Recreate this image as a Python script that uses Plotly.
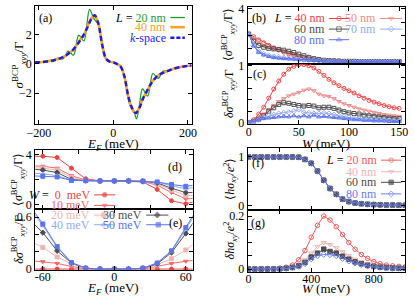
import plotly.graph_objects as go

# ---------------- data ----------------
# (a) sigma_xyy^BCP / Gamma vs E_F
ef_a = list(range(-210, 211, 10))
kspace = [0.1, 0.1, 0.12, 0.15, 0.2, 0.24, 0.3, 0.4, 0.5, 0.7, 0.9, 1.2, 1.55, 1.95, 2.45, 3.0,
          3.3, 2.7, 1.3, 0.35, 0.15, 0.1, -0.02, -0.2, -0.9, -2.2, -3.0, -3.35, -3.0, -2.35,
          -1.85, -1.4, -1.05, -0.8, -0.65, -0.55, -0.45, -0.35, -0.28, -0.22, -0.18, -0.14, -0.12]
orange_40 = [0.1, 0.1, 0.12, 0.15, 0.2, 0.25, 0.3, 0.38, 0.52, 0.72, 0.88, 1.22, 1.62, 1.9, 2.5, 3.05,
             3.25, 2.7, 1.3, 0.35, 0.15, 0.1, -0.02, -0.2, -0.9, -2.25, -3.05, -3.38, -2.95, -2.3,
             -1.92, -1.38, -1.05, -0.8, -0.66, -0.55, -0.45, -0.35, -0.28, -0.22, -0.18, -0.14, -0.12]
green_ef = [-210, -190, -170, -163, -149, -135, -121, -107, -93, -79, -64, -52, -40, -30, -20, -10,
            0, 10, 20, 30, 40, 48, 55, 62, 70, 78, 92, 106, 120, 134, 148, 165, 185, 210]
green_20 = [0.1, 0.12, 0.17, 0.15, 0.38, 0.33, 0.85, 0.58, 1.95, 1.55, 3.7, 3.05, 2.65, 1.3, 0.35, 0.15,
            0.1, -0.02, -0.2, -0.9, -2.4, -3.0, -3.2, -3.75, -2.8, -1.7, -2.2, -0.65, -1.0, -0.5,
            -0.52, -0.3, -0.2, -0.12]

# (b),(c) vs W, several L
w_bc = list(range(0, 151, 5))
avg_40 = [3.05, 2.95, 2.83, 2.72, 2.62, 2.53, 2.45, 2.37, 2.3, 2.24, 2.19, 2.15, 2.11, 2.08, 2.06, 2.05,
          2.04, 2.03, 2.03, 2.02, 2.02, 2.02, 2.02, 2.02, 2.02, 2.02, 2.02, 2.02, 2.02, 2.02, 2.02]
avg_50 = [3.05, 2.88, 2.74, 2.63, 2.55, 2.49, 2.44, 2.39, 2.34, 2.29, 2.24, 2.19, 2.15, 2.11, 2.08, 2.06,
          2.05, 2.04, 2.03, 2.02, 2.02, 2.02, 2.02, 2.02, 2.02, 2.02, 2.02, 2.02, 2.02, 2.02, 2.02]
avg_60 = [3.05, 2.78, 2.62, 2.55, 2.51, 2.49, 2.47, 2.44, 2.4, 2.35, 2.29, 2.23, 2.17, 2.12, 2.09, 2.06,
          2.05, 2.04, 2.03, 2.02, 2.02, 2.02, 2.01, 2.01, 2.01, 2.01, 2.01, 2.01, 2.01, 2.01, 2.01]
avg_70 = [3.05, 2.62, 2.4, 2.3, 2.24, 2.2, 2.18, 2.16, 2.14, 2.12, 2.1, 2.08, 2.07, 2.06, 2.05, 2.04,
          2.03, 2.02, 2.02, 2.01, 2.01, 2.01, 2.01, 2.01, 2.01, 2.01, 2.01, 2.01, 2.01, 2.01, 2.01]
avg_80 = [3.05, 2.6, 2.36, 2.26, 2.2, 2.16, 2.14, 2.12, 2.11, 2.1, 2.08, 2.07, 2.06, 2.05, 2.04, 2.03,
          2.02, 2.02, 2.01, 2.01, 2.01, 2.01, 2.01, 2.01, 2.01, 2.01, 2.01, 2.01, 2.01, 2.01, 2.01]
dev_40 = [0, 0.05, 0.15, 0.27, 0.43, 0.59, 0.73, 0.85, 0.94, 0.99, 1.02, 1.02, 1.0, 0.96, 0.9, 0.83,
          0.76, 0.7, 0.65, 0.6, 0.56, 0.52, 0.47, 0.43, 0.39, 0.36, 0.33, 0.3, 0.28, 0.26, 0.25]
dev_50 = [0, 0.03, 0.08, 0.15, 0.23, 0.3, 0.37, 0.42, 0.47, 0.5, 0.53, 0.57, 0.59, 0.56, 0.5, 0.47,
          0.46, 0.42, 0.37, 0.33, 0.3, 0.27, 0.24, 0.22, 0.2, 0.18, 0.16, 0.14, 0.13, 0.12, 0.11]
dev_60 = [0, 0.02, 0.06, 0.12, 0.2, 0.26, 0.32, 0.35, 0.34, 0.32, 0.3, 0.29, 0.3, 0.29, 0.26, 0.27,
          0.27, 0.25, 0.22, 0.19, 0.17, 0.16, 0.15, 0.13, 0.12, 0.11, 0.1, 0.09, 0.08, 0.07, 0.07]
dev_70 = [0, 0.02, 0.05, 0.09, 0.12, 0.14, 0.16, 0.17, 0.18, 0.2, 0.23, 0.18, 0.17, 0.16, 0.16, 0.17,
          0.16, 0.14, 0.12, 0.1, 0.09, 0.08, 0.07, 0.06, 0.06, 0.05, 0.05, 0.04, 0.04, 0.03, 0.03]
dev_80 = [0, 0.03, 0.05, 0.07, 0.08, 0.09, 0.1, 0.11, 0.1, 0.12, 0.1, 0.12, 0.1, 0.13, 0.1, 0.11,
          0.1, 0.09, 0.08, 0.07, 0.06, 0.05, 0.05, 0.04, 0.04, 0.03, 0.03, 0.03, 0.02, 0.02, 0.02]

# (d),(e) vs E_F, several W
ef_de = [-72, -60, -48, -36, -24, -12, 0, 12, 24, 36, 48, 60, 72]
avg_w0 = [3.85, 3.85, 3.75, 2.9, 2.05, 1.88, 1.88, 1.88, 1.8, 1.2, 0.3, 0.05, 0.35]
avg_w10 = [3.1, 3.05, 2.9, 2.3, 1.95, 1.88, 1.88, 1.88, 1.84, 1.55, 0.95, 0.45, 0.5]
avg_w20 = [2.95, 2.9, 2.75, 2.15, 1.92, 1.88, 1.88, 1.88, 1.86, 1.65, 1.15, 0.7, 0.72]
avg_w30 = [2.85, 2.75, 2.55, 2.0, 1.9, 1.88, 1.88, 1.88, 1.86, 1.72, 1.3, 0.95, 0.95]
avg_w40 = [2.5, 2.45, 2.3, 1.95, 1.9, 1.88, 1.88, 1.88, 1.86, 1.78, 1.5, 1.25, 1.45]
avg_w50 = [2.3, 2.25, 2.2, 1.92, 1.9, 1.88, 1.88, 1.88, 1.86, 1.8, 1.6, 1.45, 1.6]
dev_w0 = [0, 0, 0, 0, 0, 0, 0, 0, 0, 0, 0, 0, 0]
dev_w10 = [0.1, 0.085, 0.065, 0.03, 0.005, 0, 0, 0, 0.005, 0.03, 0.065, 0.09, 0.11]
dev_w20 = [0.33, 0.25, 0.14, 0.06, 0.01, 0, 0, 0, 0.01, 0.05, 0.12, 0.22, 0.35]
dev_w30 = [0.58, 0.42, 0.21, 0.07, 0.01, 0, 0, 0, 0.01, 0.06, 0.19, 0.41, 0.65]
dev_w40 = [0.72, 0.5, 0.25, 0.07, 0.01, 0, 0, 0, 0.01, 0.07, 0.2, 0.46, 0.72]
dev_w50 = [0.75, 0.52, 0.26, 0.075, 0.01, 0, 0, 0, 0.01, 0.07, 0.21, 0.48, 0.75]

# (f),(g) hall conductance vs W
w_fg = list(range(0, 1001, 40))
avg_f20 = [1, 1, 1, 1, 1, 1, 1, 1, 0.995, 0.95, 0.87, 0.71, 0.52, 0.35, 0.23, 0.13, 0.08, 0.05,
           0.035, 0.025, 0.018, 0.013, 0.01, 0.008, 0.006, 0.005]
avg_f40 = [1, 1, 1, 1, 1, 1, 1, 1, 0.995, 0.95, 0.87, 0.71, 0.52, 0.35, 0.23, 0.13, 0.08, 0.05,
           0.035, 0.025, 0.018, 0.013, 0.01, 0.008, 0.006, 0.005]
avg_f60 = [1, 1, 1, 1, 1, 1, 1, 1, 0.995, 0.95, 0.87, 0.71, 0.52, 0.35, 0.23, 0.13, 0.08, 0.05,
           0.035, 0.025, 0.018, 0.013, 0.01, 0.008, 0.006, 0.005]
avg_f80 = [1, 1, 1, 1, 1, 1, 1, 1, 0.995, 0.95, 0.87, 0.71, 0.52, 0.35, 0.23, 0.13, 0.08, 0.05,
           0.035, 0.025, 0.018, 0.013, 0.01, 0.008, 0.006, 0.005]
dev_g20 = [0, 0, 0, 0, 0.001, 0.003, 0.007, 0.015, 0.035, 0.07, 0.12, 0.165, 0.2, 0.185, 0.16, 0.13,
           0.1, 0.075, 0.055, 0.04, 0.028, 0.02, 0.015, 0.012, 0.01, 0.008]
dev_g40 = [0, 0, 0, 0, 0.001, 0.002, 0.004, 0.008, 0.018, 0.035, 0.06, 0.085, 0.1, 0.092, 0.08, 0.065,
           0.05, 0.037, 0.027, 0.02, 0.014, 0.01, 0.008, 0.006, 0.005, 0.004]
dev_g60 = [0, 0, 0, 0, 0, 0.001, 0.003, 0.006, 0.012, 0.025, 0.045, 0.06, 0.075, 0.066, 0.06, 0.048,
           0.037, 0.027, 0.02, 0.014, 0.01, 0.007, 0.005, 0.004, 0.003, 0.003]
dev_g80 = [0, 0, 0, 0, 0, 0.001, 0.002, 0.005, 0.01, 0.02, 0.038, 0.05, 0.055, 0.054, 0.05, 0.04,
           0.03, 0.022, 0.016, 0.011, 0.008, 0.006, 0.004, 0.003, 0.003, 0.002]

# ---------------- layout helpers ----------------
W, H = 415, 303
FONT = "Liberation Serif"


def dx(a, b):
    return [a / W, b / W]


def dy(top, bottom):
    return [1 - bottom / H, 1 - top / H]


def axis(domain, rng, tickvals, ticktext=None, anchor=None, labels=True, standoff=0):
    d = dict(domain=domain, range=rng, showline=True, linecolor="black", linewidth=1,
             mirror="ticks", ticks="inside", ticklen=4, tickcolor="black", showgrid=False,
             zeroline=False, tickvals=tickvals, showticklabels=labels,
             tickfont=dict(family=FONT, size=12, color="black"), anchor=anchor,
             ticklabelstandoff=standoff, ticklabeloverflow="allow")
    if ticktext is not None:
        d["ticktext"] = ticktext
    return d


RED = "#ea4545"
LRED = "#f08a8a"
PINK = "#efb5b5"
GRAY = "#4d4d4d"
LBLUE = "#93a9f3"
BLUE = "#5a74ee"

fig = go.Figure()


def series(x, y, ax, color, symbol, size=4, width=1):
    fig.add_trace(go.Scatter(x=x, y=y, xaxis="x" + ax, yaxis="y" + ax, mode="lines+markers",
                             line=dict(color=color, width=width),
                             marker=dict(symbol=symbol, size=size, color=color,
                                         line=dict(color=color, width=1)),
                             showlegend=False))


# (a)
fig.add_trace(go.Scatter(x=green_ef, y=green_20, xaxis="x", yaxis="y", mode="lines",
                         line=dict(color="#1f9a3a", width=1.3, shape="spline", smoothing=0.9),
                         showlegend=False))
fig.add_trace(go.Scatter(x=ef_a, y=orange_40, xaxis="x", yaxis="y", mode="lines",
                         line=dict(color="#f5a623", width=2.6, shape="spline", smoothing=0.9),
                         showlegend=False))
fig.add_trace(go.Scatter(x=ef_a, y=kspace, xaxis="x", yaxis="y", mode="lines",
                         line=dict(color="#1a1aee", width=2.4, dash="5px,3px", shape="spline",
                                   smoothing=0.9),
                         showlegend=False))

# (b) and (c)
for avg, dev, col, sym in [(avg_40, dev_40, RED, "circle-open"),
                           (avg_50, dev_50, LRED, "triangle-down-open"),
                           (avg_60, dev_60, GRAY, "square-open"),
                           (avg_70, dev_70, LBLUE, "diamond-open"),
                           (avg_80, dev_80, BLUE, "triangle-up-open")]:
    series(w_bc, avg, "2", col, sym)
    series(w_bc, dev, "3", col, sym)

# (d) and (e)
for avg, dev, col, sym in [(avg_w0, dev_w0, RED, "circle"),
                           (avg_w10, dev_w10, "#f06a6a", "triangle-down"),
                           (avg_w20, dev_w20, PINK, "square"),
                           (avg_w30, dev_w30, GRAY, "diamond"),
                           (avg_w40, dev_w40, LBLUE, "triangle-up"),
                           (avg_w50, dev_w50, BLUE, "square")]:
    series(ef_de, avg, "4", col, sym)
    series(ef_de, dev, "5", col, sym)

# (f) and (g)
for avg, dev, col, sym in [(avg_f20, dev_g20, "#f05a5a", "circle-open"),
                           (avg_f40, dev_g40, PINK, "triangle-down-open"),
                           (avg_f60, dev_g60, GRAY, "square"),
                           (avg_f80, dev_g80, "#6a80ee", "diamond-open")]:
    series(w_fg, avg, "6", col, sym, size=4.5)
    series(w_fg, dev, "7", col, sym, size=4.5)

# legend glyphs, drawn on a hidden pixel-space overlay axis
GLYPHS = [
    # (a)
    (167, 182, 13, "#1f9a3a", None, 1.3, "solid"),
    (167, 182, 23, "#f5a623", None, 2.6, "solid"),
    (167, 182, 34, "#1a1aee", None, 2.4, "4px,2px"),
    # (b)
    (331, 352, 14, RED, "circle-open", 1, "solid"),
    (384, 407, 14, LRED, "triangle-down-open", 1, "solid"),
    (331, 352, 25, GRAY, "square-open", 1, "solid"),
    (384, 407, 25, LBLUE, "diamond-open", 1, "solid"),
    (331, 352, 36, BLUE, "triangle-up-open", 1, "solid"),
    # (d)/(e)
    (88, 110, 197, RED, "circle", 1, "solid"),
    (88, 110, 208, "#f06a6a", "triangle-down", 1, "solid"),
    (88, 108, 218, PINK, "square", 1, "solid"),
    (142, 165, 218, GRAY, "diamond", 1, "solid"),
    (88, 108, 228, LBLUE, "triangle-up", 1, "solid"),
    (142, 167, 228, BLUE, "square", 1, "solid"),
    # (f)
    (385, 406, 161, "#f05a5a", "circle-open", 1, "solid"),
    (385, 406, 173, PINK, "triangle-down-open", 1, "solid"),
    (385, 406, 184, GRAY, "square", 1, "solid"),
    (385, 406, 196, "#6a80ee", "diamond-open", 1, "solid"),
]
for x0, x1, yy, col, sym, lw, dash in GLYPHS:
    fig.add_trace(go.Scatter(x=[x0, (x0 + x1) / 2, x1], y=[yy, yy, yy], xaxis="x8", yaxis="y8",
                             mode="lines+markers" if sym else "lines",
                             line=dict(color=col, width=lw, dash=dash),
                             marker=dict(symbol=sym or "circle", size=[0, 4.5, 0], color=col,
                                         line=dict(color=col, width=1)),
                             showlegend=False, hoverinfo="skip"))

LX, RX = dx(27, 189), dx(247, 410)
fig.update_layout(
    width=W, height=H, margin=dict(l=0, r=0, t=0, b=0),
    paper_bgcolor="white", plot_bgcolor="rgba(0,0,0,0)",
    font=dict(family=FONT, size=11, color="black"),
    xaxis=axis(LX, [-210, 210], [-200, 0, 200], anchor="y", standoff=-3),
    yaxis=axis(dy(1, 124), [-4.13, 3.93], [-2, 0, 2], anchor="x"),
    xaxis2=axis(RX, [-1, 156], [0, 50, 100, 150], anchor="y2", labels=False),
    yaxis2=axis(dy(2, 61), [1.927, 4.073], [2.5, 3, 3.5, 4], ["", "", "", "4"], anchor="x2"),
    xaxis3=axis(RX, [-1, 156], [0, 50, 100, 150], anchor="y3", standoff=-3),
    yaxis3=axis(dy(61, 123), [-0.017, 1.034], [0, 0.2, 0.4, 0.6, 0.8, 1],
                ["0", "", "", "", "", "1"], anchor="x3"),
    xaxis4=axis(dx(27, 190), [-66.5, 65.7], [-60, -30, 0, 30, 60], anchor="y4", labels=False),
    yaxis4=axis(dy(150, 212), [-0.385, 4.385], [0, 2, 4], ["0", "", "4"], anchor="x4"),
    xaxis5=axis(dx(27, 190), [-66.5, 65.7], [-60, -30, 0, 30, 60], ["-60", "", "0", "", "60"],
                anchor="y5", standoff=-4),
    yaxis5=axis(dy(212, 275), [-0.011, 0.689], [0, 0.2, 0.4, 0.6], ["0", "", "", "0.6"],
                anchor="x5"),
    xaxis6=axis(RX, [-6, 1000], [0, 200, 400, 600, 800, 1000], anchor="y6", labels=False),
    yaxis6=axis(dy(148, 213), [-0.099, 1.193], [0, 0.5, 1], ["0", "", "1"], anchor="x6"),
    xaxis7=axis(RX, [-6, 1000], [0, 200, 400, 600, 800, 1000], ["0", "", "400", "", "800", ""],
                anchor="y7", standoff=-4),
    yaxis7=axis(dy(213, 277), [-0.011, 0.222], [0, 0.05, 0.1, 0.15, 0.2],
                ["0", "", "", "", "0.2"], anchor="x7"),
    xaxis8=dict(domain=[0, 1], range=[0, W], visible=False, anchor="y8"),
    yaxis8=dict(domain=[0, 1], range=[H, 0], visible=False, anchor="x8"),
)


def text(x, y, s, size=12, anchor="center", angle=0):
    fig.add_annotation(x=x / W, y=1 - y / H, xref="paper", yref="paper", text=s, showarrow=False,
                       xanchor=anchor, yanchor="middle", textangle=angle,
                       font=dict(family=FONT, size=size, color="black"))


SIG = "<i>σ</i><sup>BCP</sup><sub><i>xyy</i></sub>/Γ"
EF = "<i>E</i><sub><i>F</i></sub> (meV)"
WT = "<i>W</i> (meV)"

# panel tags
for x, y, s in [(38, 13, "(a)"), (259, 13, "(b)"), (259, 72, "(c)"), (172, 168, "(d)"),
                (172, 226, "(e)"), (258, 164, "(f)"), (258, 226, "(g)")]:
    text(x, y, s, size=12)

# axis titles
text(108, 145, EF, size=13)
text(328, 144, WT, size=13)
text(108, 294, EF, size=13)
text(328, 294, WT, size=13)
text(10, 62, SIG, size=13, angle=-90)
text(228, 31, "⟨" + SIG + "⟩", size=12, angle=-90)
text(228, 92, "<i>δσ</i><sup>BCP</sup><sub><i>xyy</i></sub>/Γ", size=12, angle=-90)
text(10, 181, "⟨" + SIG + "⟩", size=12, angle=-90)
text(10, 243, "<i>δσ</i><sup>BCP</sup><sub><i>xyy</i></sub>/Γ", size=12, angle=-90)
text(229, 180, "⟨<i>hσ</i><sub><i>xy</i></sub>/<i>e</i><sup>2</sup>⟩", size=12, angle=-90)
text(229, 244, "<i>δhσ</i><sub><i>xy</i></sub>/<i>e</i><sup>2</sup>", size=12, angle=-90)

# legend texts
text(165, 13, "<i>L</i> = <span style='color:#1f9a3a'>20 nm</span>", anchor="right")
text(165, 23, "<span style='color:#f5a623'>40 nm</span>", anchor="right")
text(165, 34, "<span style='color:#1a1aee'><i>k</i>-space</span>", anchor="right")

text(329, 14, "<i>L</i> = <span style='color:%s'>40 nm</span>" % RED, anchor="right")
text(382, 14, "<span style='color:%s'>50 nm</span>" % LRED, anchor="right")
text(329, 25, "<span style='color:%s'>60 nm</span>" % GRAY, anchor="right")
text(382, 25, "<span style='color:%s'>70 nm</span>" % LBLUE, anchor="right")
text(329, 36, "<span style='color:%s'>80 nm</span>" % BLUE, anchor="right")

text(86, 197, "<i>W</i> =  <span style='color:%s'>0  meV</span>" % RED, anchor="right")
text(86, 208, "<span style='color:#f06a6a'>10 meV</span>", anchor="right")
text(86, 218, "<span style='color:%s'>20 meV</span>" % PINK, anchor="right")
text(140, 218, "<span style='color:%s'>30 meV</span>" % GRAY, anchor="right")
text(86, 228, "<span style='color:%s'>40 meV</span>" % LBLUE, anchor="right")
text(140, 228, "<span style='color:%s'>50 meV</span>" % BLUE, anchor="right")

text(383, 161, "<i>L</i> = <span style='color:#f05a5a'>20 nm</span>", anchor="right")
text(383, 173, "<span style='color:%s'>40 nm</span>" % PINK, anchor="right")
text(383, 184, "<span style='color:%s'>60 nm</span>" % GRAY, anchor="right")
text(383, 196, "<span style='color:#6a80ee'>80 nm</span>", anchor="right")

# drop the browser's default page margin so the figure sits at the window's top-left corner
fig.write_html("out.html", config={"displayModeBar": False},
               post_script="document.body.style.margin='0px';")
